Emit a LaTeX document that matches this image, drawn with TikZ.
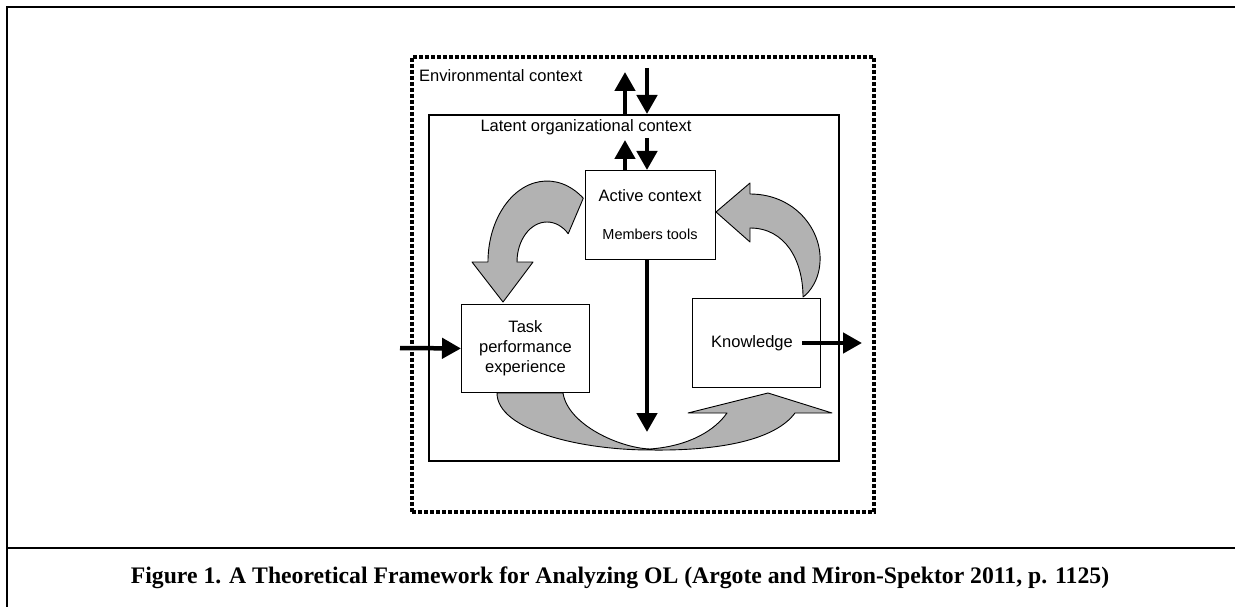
\documentclass[tikz,border=0pt]{standalone}
\usepackage{fontspec}
\setmainfont{Liberation Serif}
\newfontfamily\diagfont{Liberation Sans}
\usetikzlibrary{arrows.meta,calc}

\begin{document}
\begin{tikzpicture}[x=1pt,y=-1pt,
  frame/.style={line width=2.2pt},
  envbox/.style={draw, line width=3.6pt, dash pattern=on 4pt off 2pt, inner sep=0pt, anchor=north west},
  orgbox/.style={draw, line width=1.8pt, inner sep=0pt, anchor=north west},
  stepbox/.style={draw, line width=0.9pt, fill=white, inner sep=0pt, anchor=north west},
  lbl/.style={font=\diagfont\fontsize{16.5}{20}\selectfont, inner sep=0pt},
  smalllbl/.style={font=\diagfont\fontsize{14.5}{17}\selectfont, inner sep=0pt},
  flow/.style={line width=4.5pt, -{Triangle[length=19pt,width=20pt]}},
  bigarrow/.style={draw=black, line width=0.9pt, fill=black!30, line join=round},
]
\useasboundingbox (0,0) rectangle (1235,607);

% page frame and caption rule
\draw[frame] (7.3,607) -- (7.3,7) -- (1235,7);
\draw[frame] (7.3,548) -- (1235,548);
\node[font=\bfseries\fontsize{23.7}{28}\selectfont, inner sep=0pt] (caption) at (620,578)
  {Figure 1. A Theoretical Framework for Analyzing OL (Argote and Miron-Spektor 2011, p. 1125)};

% context boxes
\node[envbox, minimum width=462pt, minimum height=455pt] (env) at (410,55) {};
\node[orgbox, minimum width=410pt, minimum height=346pt] (latent) at (428,114) {};
\node[lbl, anchor=west] (envtext) at (419,76) {Environmental context};
\node[lbl] (latenttext) at (586,127) {Latent organizational context};

% gray cycle arrows
\draw[bigarrow] (583.3,198.2) arc[start angle=52, end angle=180, x radius=59pt, y radius=81pt]
  -- (472,262) -- (503,302) -- (533,262) -- (517,262)
  arc[start angle=180, end angle=45, x radius=30pt, y radius=40pt] -- cycle;
\draw[bigarrow] (803,297) .. controls (803,260) and (785,228) .. (750,228)
  -- (750,242) -- (716,212) -- (750,183) -- (750,194)
  .. controls (795,194) and (822,230) .. (820,262)
  .. controls (819,280) and (810,292) .. (803,297) -- cycle;
\draw[bigarrow] (497,393) .. controls (497,430) and (580,450) .. (650,450)
  .. controls (720,451) and (775,440) .. (795,413)
  -- (832,413) -- (768,393) -- (688,413) -- (727,413)
  .. controls (715,430) and (690,446) .. (650,449)
  .. controls (620,448) and (568,425) .. (563,393) -- cycle;

% process boxes
\node[stepbox, minimum width=130pt, minimum height=89pt] (active) at (585,170) {};
\node[lbl] (activetext) at (650,196) {Active context};
\node[smalllbl] (memberstext) at (650,234) {Members tools};
\node[stepbox, minimum width=128pt, minimum height=88pt] (task) at (461,304) {};
\node[lbl, align=center] (tasktext) at (task.center) {Task\\performance\\experience};
\node[stepbox, minimum width=128pt, minimum height=89pt] (knowledge) at (692,298) {};
\node[lbl] (kntext) at (752,343) {Knowledge};

% exchange arrows
\coordinate (envup) at (625,72);
\coordinate (envdown) at (647,68);
\coordinate (orgup) at (625,140);
\coordinate (orgdown) at (647,138);
\coordinate (dip) at (647,432);
\coordinate (taskin) at (400,348);
\coordinate (knout) at (862,343);
\draw[flow] (envup |- latent.north) -- (envup);
\draw[flow] (envdown) -- (envdown |- latent.north);
\draw[flow] (orgup |- active.north) -- (orgup);
\draw[flow] (orgdown) -- (orgdown |- active.north);
\draw[flow] (orgdown |- active.south) -- (dip);
\draw[flow] (taskin) -- (task.west);
\draw[flow] ([xshift=9pt]kntext.east) -- (knout);
\end{tikzpicture}
\end{document}
